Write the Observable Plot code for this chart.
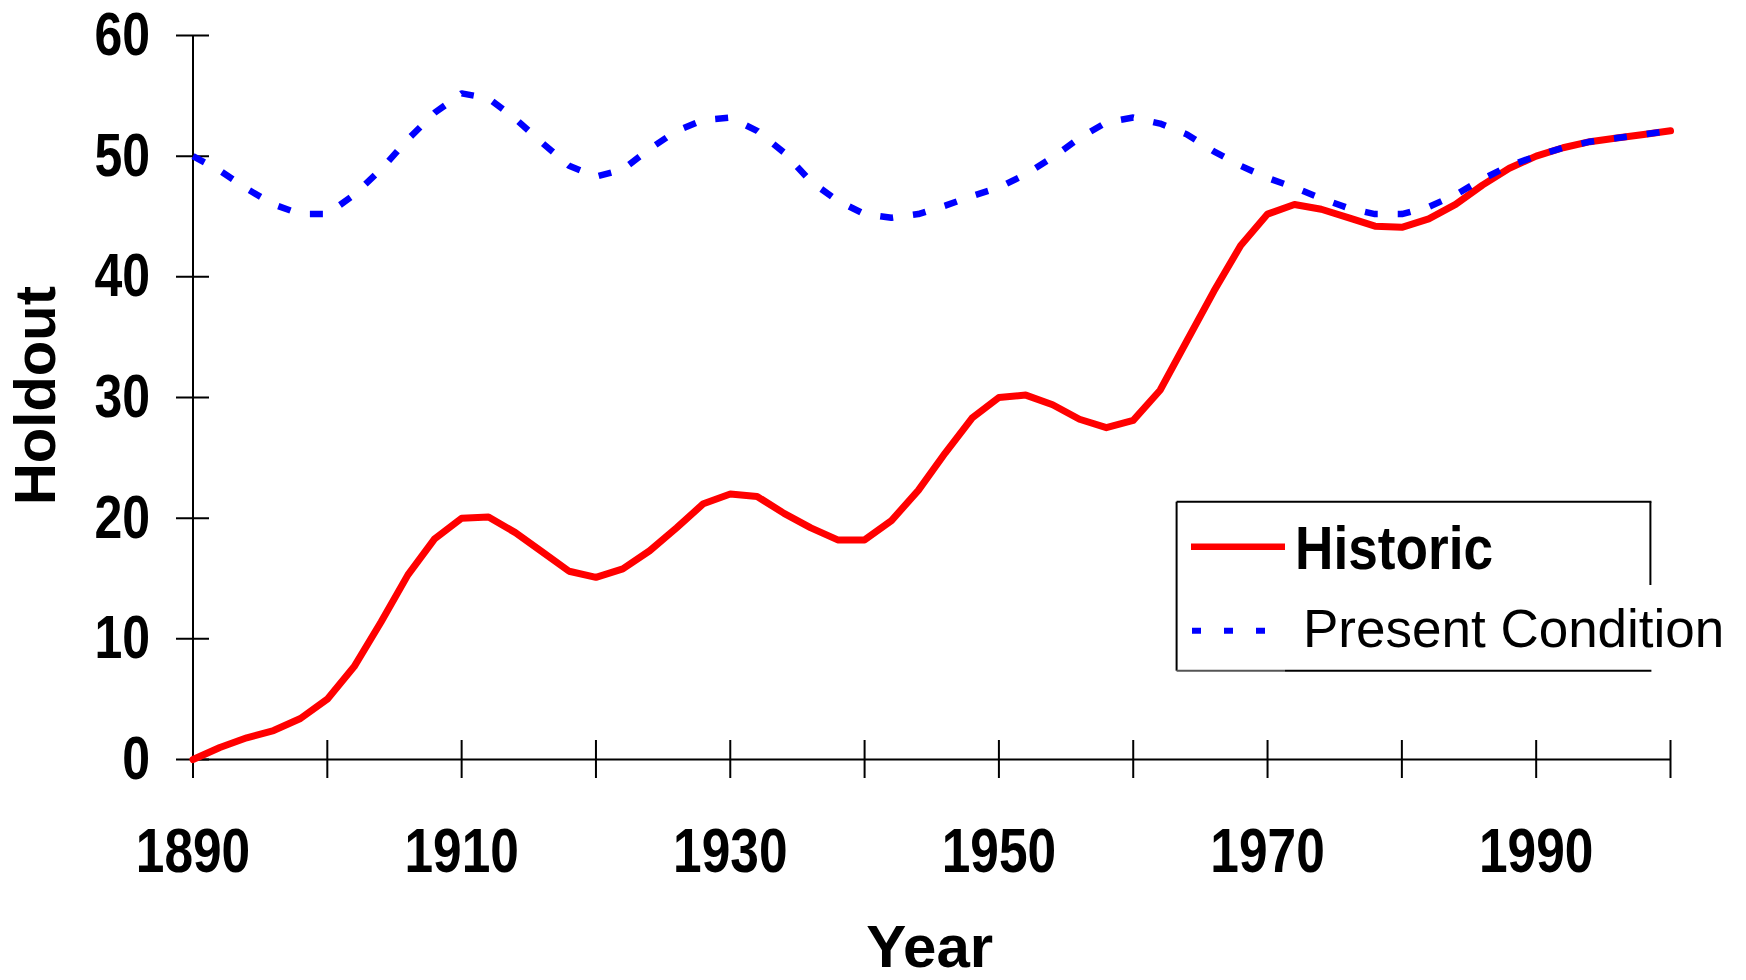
<!DOCTYPE html>
<html>
<head>
<meta charset="utf-8">
<script src="https://cdn.jsdelivr.net/npm/d3@7"></script>
<script src="https://cdn.jsdelivr.net/npm/@observablehq/plot@0.6"></script>
<style>
  html, body { margin: 0; padding: 0; background: #fff; }
  #chart { width: 1746px; height: 980px; position: relative; }
</style>
</head>
<body>
<div id="chart"></div>
<script>
// ---- data ----
const years = [1890,1892,1894,1896,1898,1900,1902,1904,1906,1908,1910,1912,1914,1916,1918,1920,1922,1924,1926,1928,1930,1932,1934,1936,1938,1940,1942,1944,1946,1948,1950,1952,1954,1956,1958,1960,1962,1964,1966,1968,1970,1972,1974,1976,1978,1980,1982,1984,1986,1988,1990,1992,1994,1996,1998,2000];
const historic = [0,1.0,1.8,2.4,3.4,5.0,7.7,11.4,15.3,18.3,20.0,20.1,18.8,17.2,15.6,15.1,15.8,17.3,19.2,21.2,22.0,21.8,20.4,19.2,18.2,18.2,19.8,22.3,25.4,28.3,30.0,30.2,29.4,28.2,27.5,28.1,30.6,34.7,38.8,42.6,45.2,46.0,45.6,44.9,44.2,44.1,44.8,46.0,47.6,49.0,50.0,50.7,51.2,51.5,51.8,52.1];
const present = [50.0,48.8,47.3,46.0,45.2,45.2,46.8,48.9,51.4,53.6,55.2,54.8,53.1,51.1,49.2,48.3,48.9,50.6,52.1,53.0,53.2,52.1,50.3,47.9,46.3,45.2,44.9,45.2,45.9,46.7,47.4,48.5,49.9,51.5,52.8,53.2,52.7,51.8,50.4,49.2,48.2,47.4,46.5,45.7,45.2,45.2,45.8,46.8,48.1,49.2,50.0,50.7,51.2,51.5,51.8,52.1];
const xDomain = [1890, 2000];
const yDomain = [0, 60];
const xTicks = [1890,1900,1910,1920,1930,1940,1950,1960,1970,1980,1990,2000];
const xTickLabels = [1890,1910,1930,1950,1970,1990];
const yTicks = [0,10,20,30,40,50,60];
const seriesNames = ["Historic", "Present Condition"];
const xLabel = "Year";
const yLabel = "Holdout";

const table = years.map((yr, i) => ({year: yr, historic: historic[i], present: present[i]}));

const W = 1746, H = 980;
const mL = 192.5, mR = 76, mT = 35, mB = 221;
const plotW = W - mL - mR, plotH = H - mT - mB;
const narrow = "'Liberation Sans Narrow', 'Arial Narrow', 'Liberation Sans', Arial, sans-serif";
const regular = "'Liberation Sans', Arial, sans-serif";

const chart = Plot.plot({
  width: W, height: H,
  marginLeft: mL, marginRight: mR, marginTop: mT, marginBottom: mB,
  style: {background: "#fff", color: "#000", overflow: "visible"},
  x: {domain: xDomain},
  y: {domain: yDomain},
  marks: [
    Plot.ruleX([xDomain[0]], {stroke: "#000", strokeWidth: 2}),
    Plot.ruleY([yDomain[0]], {stroke: "#000", strokeWidth: 2}),
    Plot.tickX(xTicks, {x: d => d, stroke: "#000", strokeWidth: 2, insetTop: plotH - 19, insetBottom: -19}),
    Plot.tickY(yTicks, {y: d => d, stroke: "#000", strokeWidth: 2, insetLeft: -16.5, insetRight: plotW - 16.5}),
    Plot.axisX(xTickLabels, {tickSize: 0, tickPadding: 68, tickFormat: d => String(d), fontSize: 63, fontWeight: "bold", fontFamily: narrow, label: null}),
    Plot.axisY(yTicks, {tickSize: 0, tickPadding: 43, tickFormat: d => String(d), fontSize: 61, fontWeight: "bold", fontFamily: narrow, label: null}),
    Plot.text([xLabel], {frameAnchor: "bottom", text: d => d, textAnchor: "middle", lineAnchor: "middle", dx: -2, dy: 188, fontSize: 60, fontWeight: "bold", fontFamily: narrow, fill: "#000", ariaLabel: "xlabel"}),
    Plot.text([yLabel], {frameAnchor: "left", text: d => d, textAnchor: "middle", lineAnchor: "middle", rotate: -90, dx: -157, dy: -2, fontSize: 58, fontWeight: "bold", fontFamily: regular, fill: "#000", ariaLabel: "ylabel"}),
    Plot.line(table, {x: "year", y: "historic", stroke: "#ff0000", strokeWidth: 7, strokeLinejoin: "round"}),
    Plot.line(table, {x: "year", y: "present", stroke: "#0000ff", strokeWidth: 6.5, strokeDasharray: "13,20", strokeLinecap: "butt"})
  ]
});

document.getElementById("chart").appendChild(chart);
const svgEl = chart.tagName.toLowerCase() === "svg" ? chart : chart.querySelector("svg");
const svg = d3.select(svgEl);

// condensed look for the narrow bold texts (Arial Narrow is not installed)
function squeeze(sel, perChar) {
  sel.each(function () {
    const t = this.textContent;
    if (t) d3.select(this).attr("textLength", perChar * t.length).attr("lengthAdjust", "spacingAndGlyphs");
  });
}
squeeze(svg.selectAll('g[aria-label="x-axis tick label"] text'), 28.6);
squeeze(svg.selectAll('g[aria-label="y-axis tick label"] text'), 27.8);
svg.selectAll('g[aria-label="xlabel"] text').attr("textLength", 115).attr("lengthAdjust", "spacingAndGlyphs");
svg.selectAll('g[aria-label="ylabel"] text').attr("textLength", 228).attr("lengthAdjust", "spacingAndGlyphs");

// ---- legend (inside the plot area, as in the reference) ----
const lg = svg.append("g").attr("class", "legend").attr("text-anchor", "start");
const bx0 = 1176.6, bx1 = 1650.4, by0 = 501.7, by1 = 670.7;
lg.append("rect").attr("x", bx0).attr("y", by0).attr("width", bx1 - bx0).attr("height", by1 - by0).attr("fill", "#fff").attr("stroke", "none");
lg.append("line").attr("x1", bx0).attr("x2", bx1 + 1).attr("y1", by0).attr("y2", by0).attr("stroke", "#000").attr("stroke-width", 2);
lg.append("line").attr("x1", bx0).attr("x2", bx0).attr("y1", by0).attr("y2", by1).attr("stroke", "#000").attr("stroke-width", 2);
lg.append("line").attr("x1", bx1).attr("x2", bx1).attr("y1", by0).attr("y2", 585).attr("stroke", "#000").attr("stroke-width", 2);
lg.append("line").attr("x1", bx0).attr("x2", 1285).attr("y1", by1).attr("y2", by1).attr("stroke", "#555").attr("stroke-width", 2);
lg.append("line").attr("x1", 1285).attr("x2", bx1 + 1).attr("y1", by1).attr("y2", by1).attr("stroke", "#000").attr("stroke-width", 2);
lg.append("line").attr("x1", 1191).attr("x2", 1285).attr("y1", 546.7).attr("y2", 546.7).attr("stroke", "#ff0000").attr("stroke-width", 6.5);
lg.append("text").attr("x", 1295).attr("y", 569.3).attr("font-family", narrow).attr("font-weight", "bold").attr("font-size", 62)
  .attr("textLength", 198).attr("lengthAdjust", "spacingAndGlyphs").attr("fill", "#000").text(seriesNames[0]);
lg.append("line").attr("x1", 1192).attr("x2", 1268).attr("y1", 630.7).attr("y2", 630.7).attr("stroke", "#0000ff").attr("stroke-width", 6).attr("stroke-dasharray", "9,23");
lg.append("text").attr("x", 1303).attr("y", 646.7).attr("font-family", regular).attr("font-size", 53).attr("fill", "#000").text(seriesNames[1]);
</script>
</body>
</html>
